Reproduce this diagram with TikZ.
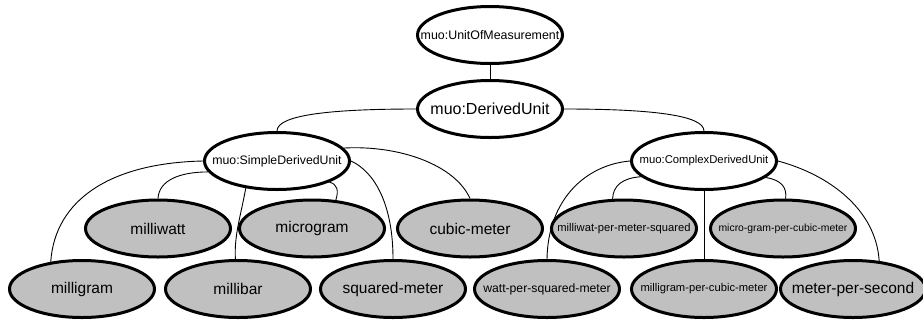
\documentclass[tikz,border=0pt]{standalone}
\usepackage{fontspec}
\setmainfont{Liberation Sans}
\usetikzlibrary{shapes.geometric}
\definecolor{nodegray}{RGB}{192,192,192}
\tikzset{
  oval/.style={ellipse, draw=black, line width=3pt, minimum width=145pt, minimum height=57pt, inner sep=0pt, fill=white},
  leaf/.style={oval, fill=nodegray},
  link/.style={draw=black, line width=0.9pt},
}
\newcommand{\lbl}[2]{\makebox[0pt]{\fontsize{#1}{#1}\selectfont #2}}
\begin{document}
\begin{tikzpicture}[x=1pt,y=-1pt]
\useasboundingbox (0,0) rectangle (923,322);
% nodes
\node[oval] (uom) at (490,35) {\lbl{12.4}{muo:UnitOfMeasurement}};
\node[oval] (du) at (490,109) {\lbl{16}{muo:DerivedUnit}};
\node[oval] (sdu) at (277,161) {\lbl{12.3}{muo:SimpleDerivedUnit}};
\node[oval] (cdu) at (704,161) {\lbl{11.3}{muo:ComplexDerivedUnit}};
\node[leaf] (mw) at (158,228.5) {\lbl{15.5}{milliwatt}};
\node[leaf] (mcg) at (312,228.5) {\lbl{15.5}{microgram}};
\node[leaf] (cm) at (470,228.5) {\lbl{15.5}{cubic-meter}};
\node[leaf] (mwpms) at (624,228.5) {\lbl{11.2}{milliwat-per-meter-squared}};
\node[leaf] (mgpcm) at (783,228.5) {\lbl{10.4}{micro-gram-per-cubic-meter}};
\node[leaf] (mg) at (82,289) {\lbl{15.5}{milligram}};
\node[leaf] (mb) at (238,289) {\raisebox{-1.5pt}{\lbl{15.5}{millibar}}};
\node[leaf] (sqm) at (393,289) {\lbl{15.5}{squared-meter}};
\node[leaf] (wpsm) at (547,289) {\lbl{12.2}{watt-per-squared-meter}};
\node[leaf] (mgpc) at (704,289) {\lbl{11.2}{milligram-per-cubic-meter}};
\node[leaf] (mps) at (853,289) {\lbl{15.5}{meter-per-second}};
% connectors
\draw[link] (uom.south) -- (du.north);
\draw[link] (du.west) .. controls (330,109) and (277,115) .. (sdu.north);
\draw[link] (du.east) .. controls (650,109) and (704,115) .. (cdu.north);
\draw[link] (sdu.11) .. controls (400,145) and (455,165) .. (cm.north);
\draw[link] (sdu.east) .. controls (375,172) and (393,205) .. (sqm.north);
\draw[link] (sdu.-22) .. controls (337,184) and (339,190) .. (mcg.50);
\draw[link] (sdu.189) .. controls (180,172) and (159,180) .. (mw.north);
\draw[link] (sdu.west) .. controls (110,163) and (55,200) .. (mg.139);
\draw[link] (sdu.221) .. controls (241,215) and (234,235) .. (mb.95);
\draw[link] (cdu.west) .. controls (585,165) and (548,200) .. (wpsm.north);
\draw[link] (cdu.194) .. controls (622,178) and (613,186) .. (mwpms.111);
\draw[link] (cdu.-15) .. controls (782,180) and (787,188) .. (mgpcm.85);
\draw[link] (cdu.south) -- (mgpc.north);
\draw[link] (cdu.east) .. controls (830,175) and (876,210) .. (mps.47);
\end{tikzpicture}
\end{document}
